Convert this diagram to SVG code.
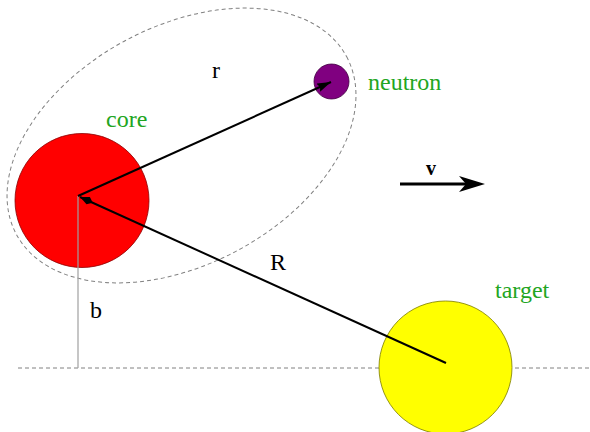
<svg xmlns="http://www.w3.org/2000/svg" width="590" height="432" viewBox="0 0 590 432">
<style>
.lbl{font-family:"Liberation Serif","Times New Roman",serif;font-size:24px;fill:#000}
.grn{fill:#22a522}
.vec{stroke:#000;stroke-width:2;fill:none}
.dash{stroke:#808080;stroke-width:1;fill:none;stroke-dasharray:4,3}
</style>
<defs>
<marker id="ah" markerUnits="userSpaceOnUse" markerWidth="16" markerHeight="10" refX="14" refY="4.5" orient="auto">
<path d="M0,0 L14,4.5 L0,9 L2,4.5 Z" fill="#000"/>
</marker>
<marker id="ah2" markerUnits="userSpaceOnUse" markerWidth="16" markerHeight="10" refX="14" refY="4.5" orient="auto">
<path d="M0,4.5 L5,0.5 L14,4.5 L5,8.5 Z" fill="#000"/>
</marker>
<marker id="ahv" markerUnits="userSpaceOnUse" markerWidth="28" markerHeight="18" refX="7" refY="8" orient="auto">
<path d="M0,0 L26,8 L0,16 L7,8 Z" fill="#000"/>
</marker>
</defs>
<rect width="590" height="432" fill="#fff"/>
<g id="axis">
<line class="dash" x1="18" y1="368" x2="590" y2="368"/>
</g>
<g id="orbit">
<ellipse class="dash" cx="181.5" cy="145.5" rx="187.5" ry="119" transform="rotate(-28.3 181.5 145.5)"/>
</g>
<g id="core">
<circle cx="82" cy="200.5" r="67" fill="#ff0000" stroke="#8b0000" stroke-width="0.8"/>
<text class="lbl grn" x="106" y="127">core</text>
</g>
<g id="neutron">
<circle cx="331.5" cy="81.5" r="17.5" fill="#800080" stroke="#400040" stroke-width="0.8"/>
<text class="lbl grn" x="368" y="90">neutron</text>
</g>
<g id="target">
<circle cx="445.5" cy="367.5" r="66.5" fill="#ffff00" stroke="#7a7a00" stroke-width="0.8"/>
<text class="lbl grn" x="495" y="298">target</text>
</g>
<g id="connectors">
<line x1="78" y1="196" x2="78" y2="368" stroke="#a0a0a0" stroke-width="1.2"/>
<line class="vec" x1="78" y1="196" x2="331" y2="82" marker-end="url(#ah)"/>
<line class="vec" x1="446" y1="363" x2="80" y2="197" marker-end="url(#ah2)"/>
<line x1="400" y1="184" x2="466" y2="184" stroke="#000" stroke-width="3" marker-end="url(#ahv)"/>
<text x="212" y="78" class="lbl">r</text>
<text x="270" y="270" class="lbl">R</text>
<text x="90" y="318" class="lbl">b</text>
<text x="426" y="175" font-family="Liberation Serif, serif" font-size="20" font-weight="bold">v</text>
</g>
</svg>
